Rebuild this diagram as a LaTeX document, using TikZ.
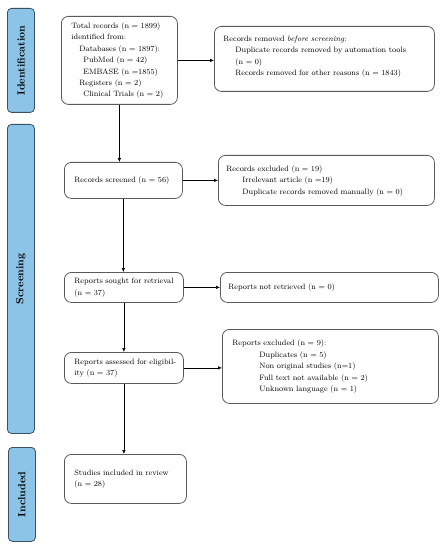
\documentclass[tikz,border=0pt]{standalone}
\usetikzlibrary{arrows.meta}
\definecolor{sidefill}{RGB}{140,196,232}
\definecolor{sidedraw}{RGB}{60,80,100}
\definecolor{boxdraw}{RGB}{90,90,90}
\newcommand\tlines[1]{\begin{tabular}{@{}l@{}}#1\end{tabular}}
\begin{document}
\begin{tikzpicture}[x=1bp,y=-1bp,
  box/.style={draw=boxdraw, line width=0.8bp, rounded corners=7bp, fill=white,
    anchor=north west, align=left, inner xsep=10bp, inner ysep=2bp,
    font=\fontsize{7.8}{11.4}\selectfont},
  side/.style={draw=sidedraw, line width=0.8bp, fill=sidefill, rounded corners=4bp,
    anchor=north west, inner sep=0pt},
  sidetext/.style={rotate=90, font=\fontsize{10.5}{12}\selectfont\bfseries},
  arr/.style={-{Latex[length=4bp,width=3.5bp]}, line width=0.6bp}]
\useasboundingbox (0,0) rectangle (447,550);
% sidebars
\node[side, minimum width=27bp, minimum height=104bp] (sid) at (7,8) {};
\node[sidetext] (sidt) at (sid.center) {Identification};
\node[side, minimum width=27bp, minimum height=309bp] (sscr) at (7,124) {};
\node[sidetext] (sscrt) at (sscr.center) {Screening};
\node[side, minimum width=27bp, minimum height=94bp] (sinc) at (8,447) {};
\node[sidetext] (sinct) at (sinc.center) {Included};
% boxes
\node[box, minimum width=116bp, minimum height=88bp, text width=96bp] (total) at (61,16)
  {\tlines{Total records (n = 1899)\\identified from:\\\hspace*{8bp}Databases (n = 1897):\\\hspace*{12bp}PubMed (n = 42)\\\hspace*{12bp}EMBASE (n =1855)\\\hspace*{8bp}Registers (n = 2)\\\hspace*{12bp}Clinical Trials (n = 2)}};
\node[box, minimum width=220bp, minimum height=65bp, text width=202bp, inner xsep=9bp] (removed) at (214,26)
  {\tlines{Records removed \textit{before screening}:\\\hspace*{12bp}Duplicate records removed by automation tools\\\hspace*{12bp}(n = 0)\\\hspace*{12bp}Records removed for other reasons (n = 1843)\\[5bp]}};
\node[box, minimum width=118bp, minimum height=36bp, text width=98bp] (screened) at (64,162)
  {\tlines{Records screened (n = 56)}};
\node[box, minimum width=216bp, minimum height=50bp, text width=200bp, inner xsep=8bp] (excl) at (218,155)
  {\tlines{Records excluded (n = 19)\\\hspace*{16bp}Irrelevant article (n =19)\\\hspace*{16bp}Duplicate records removed manually (n = 0)}};
\node[box, minimum width=119bp, minimum height=30bp, text width=99bp] (sought) at (64,272)
  {\tlines{Reports sought for retrieval\\(n = 37)}};
\node[box, minimum width=218bp, minimum height=30bp, text width=202bp, inner xsep=8bp] (notret) at (220,272)
  {\tlines{Reports not retrieved (n = 0)}};
\node[box, minimum width=119bp, minimum height=31bp, text width=99bp] (assessed) at (64,352)
  {\tlines{Reports assessed for eligibil-\\ity (n = 37)}};
\node[box, minimum width=216bp, minimum height=74bp, text width=196bp, inner xsep=10bp] (rexcl) at (222,329)
  {\tlines{Reports excluded (n = 9):\\\hspace*{27bp}Duplicates (n = 5)\\\hspace*{27bp}Non original studies (n=1)\\\hspace*{27bp}Full text not available (n = 2)\\\hspace*{27bp}Unknown language (n = 1)}};
\node[box, minimum width=122bp, minimum height=49bp, text width=102bp] (incl) at (64,454)
  {\tlines{Studies included in review\\(n = 28)}};
% connectors
\draw[arr] (total.south) -- (total.south |- screened.north);
\draw[arr] (total.east) -- (total.east -| removed.west);
\draw[arr] (screened.east) -- (screened.east -| excl.west);
\draw[arr] (screened.south) -- (screened.south |- sought.north);
\draw[arr] (sought.east) -- (sought.east -| notret.west);
\draw[arr] (sought.south) -- (sought.south |- assessed.north);
\draw[arr] (assessed.east) -- (assessed.east -| rexcl.west);
\draw[arr] (assessed.south) -- (assessed.south |- incl.north);
\end{tikzpicture}
\end{document}
